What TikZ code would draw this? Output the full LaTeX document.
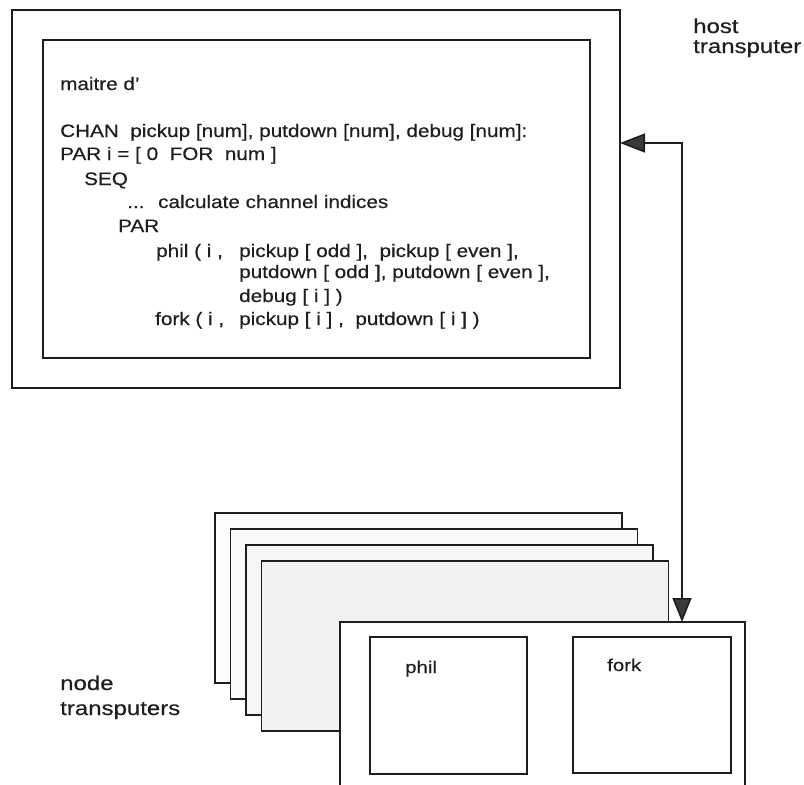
\documentclass[tikz,border=0pt]{standalone}
\usepackage{fontspec}
\setmainfont{Liberation Sans}
\newfontfamily\codefont{Liberation Sans}[FakeStretch=1.15,FakeBold=0.4]
\newfontfamily\labelfont{Liberation Sans}[FakeStretch=1.2,FakeBold=0.4]
\usetikzlibrary{arrows.meta}

\definecolor{ink}{HTML}{1E1E1E}
\definecolor{tipgray}{HTML}{3A3A3A}

\tikzset{
  box/.style={draw=ink, line width=1.6pt, inner sep=0pt, outer sep=0pt, anchor=north west},
  layer/.style={box, minimum width=407pt, minimum height=170pt},
  code/.style={anchor=base west, inner sep=0pt, text=ink, font=\codefont\fontsize{18}{20}\selectfont},
  caption/.style={anchor=base west, inner sep=0pt, text=ink,
    font=\labelfont\fontsize{20}{20}\selectfont},
  proc/.style={anchor=base west, inner sep=0pt, text=ink, font=\labelfont\fontsize{17}{18}\selectfont},
  link/.style={draw=ink, line width=1.6pt,
    {Triangle[length=25pt,width=19pt,fill=tipgray]}-{Triangle[length=24pt,width=19pt,fill=tipgray]},
    shorten <=0pt, shorten >=0pt}
}

\begin{document}
\begin{tikzpicture}[x=1pt,y=-1pt]
\useasboundingbox (0,0) rectangle (804,785);

% host transputer with the maitre d' process inside
\node[box, minimum width=608pt, minimum height=378pt] (host) at (12,10) {};
\node[box, minimum width=547pt, minimum height=318pt] (maitre) at (43,40) {};

\node[code] (l1)  at (60,90)  {maitre d’};
\node[code] (l2)  at (60,137) {CHAN\ \ pickup [num], putdown [num], debug [num]:};
\node[code] (l3)  at (60,160) {PAR i = [ 0\ \ FOR\ \ num ]};
\node[code] (l4)  at (84,185) {SEQ};
\node[code] (l5a) at (127,208) {...};
\node[code] (l5b) at (158,208) {calculate channel indices};
\node[code] (l6)  at (118,232) {PAR};
\node[code] (l7a) at (156,257) {phil ( i ,};
\node[code] (l7b) at (239,257) {pickup [ odd ],\ \ pickup [ even ],};
\node[code] (l8)  at (239,278) {putdown [ odd ], putdown [ even ],};
\node[code] (l9)  at (239,302) {debug [ i ] )};
\node[code] (l10a) at (155,325) {fork ( i ,};
\node[code] (l10b) at (239,325) {pickup [ i ] ,\ \ putdown [ i ] )};

\node[caption] (hostlbl1) at (693,33) {host};
\node[caption] (hostlbl2) at (693,53) {transputer};

% stack of node transputers
\node[layer, fill=gray!3]  (n1) at (215,513) {};
\node[layer, fill=gray!4]  (n2) at (230.5,529) {};
\node[layer, fill=gray!7]  (n3) at (246,545) {};
\node[layer, fill=gray!10] (n4) at (261.5,561) {};

% front node transputer, running off the bottom edge
\node[anchor=north west, inner sep=0pt, outer sep=0pt, fill=white,
      minimum width=405pt, minimum height=175pt] (front) at (340,622) {};
\draw[draw=ink, line width=1.6pt]
  (front.south west) -- (front.north west) -- (front.north east) -- (front.south east);

\node[box, minimum width=157pt, minimum height=137pt] (phil) at (370,637) {};
\node[box, minimum width=158pt, minimum height=136pt] (fork) at (573,637) {};
\node[proc] (phillbl) at (405,673) {phil};
\node[proc] (forklbl) at (607,671) {fork};

\node[caption] (nodelbl1) at (60,690) {node};
\node[caption] (nodelbl2) at (60,715) {transputers};

% link between host and the node transputers
\coordinate (bend) at (682,143);
\draw[link] (host.east |- bend) -- (bend) -- (bend |- front.north);
\end{tikzpicture}
\end{document}
